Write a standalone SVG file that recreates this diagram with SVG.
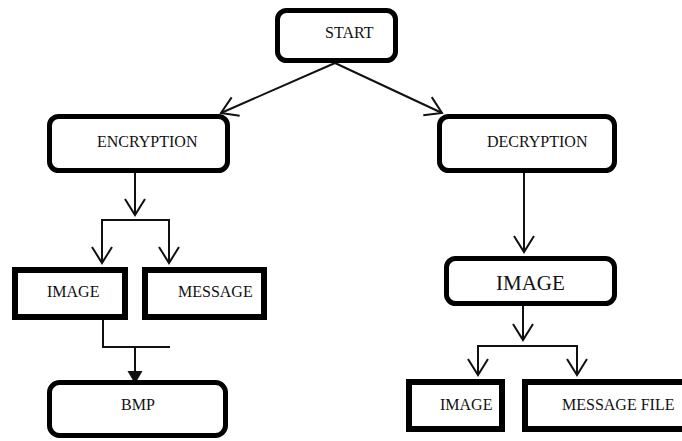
<svg xmlns="http://www.w3.org/2000/svg" width="682" height="441" viewBox="0 0 682 441">
  <style>
    .round { fill: #fff; stroke: #000; stroke-width: 5; }
    .square { fill: #fff; stroke: #000; stroke-width: 6; }
    .lbl { font-family: "Liberation Serif", "Times New Roman", serif; font-size: 16px; fill: #111; }
    .big { font-size: 21px; }
    .wire { fill: none; stroke: #111; stroke-width: 2; }
  </style>
  <defs>
    <marker id="vee" markerUnits="userSpaceOnUse" markerWidth="24" markerHeight="26" refX="0" refY="0" viewBox="-20 -13 24 26" orient="auto" overflow="visible">
      <path d="M-16,-10 L0,0 L-16,10" fill="none" stroke="#111" stroke-width="2"/>
    </marker>
    <marker id="solid" markerUnits="userSpaceOnUse" markerWidth="16" markerHeight="18" refX="0" refY="0" viewBox="-14 -9 16 18" orient="auto" overflow="visible">
      <path d="M-13,-7.5 L0,0 L-13,7.5 Z" fill="#111"/>
    </marker>
  </defs>

  <g id="connectors">
    <line class="wire" x1="335" y1="63" x2="221" y2="113" marker-end="url(#vee)"/>
    <line class="wire" x1="335" y1="63" x2="442" y2="113" marker-end="url(#vee)"/>
    <line class="wire" x1="135" y1="173" x2="135" y2="215" marker-end="url(#vee)"/>
    <polyline class="wire" points="102,263 102,220 169,220 169,263" />
    <line class="wire" x1="102" y1="240" x2="102" y2="263" marker-end="url(#vee)"/>
    <line class="wire" x1="169" y1="240" x2="169" y2="263" marker-end="url(#vee)"/>
    <polyline class="wire" points="103,320 103,347 170,347"/>
    <line class="wire" x1="135" y1="347" x2="135" y2="384" marker-end="url(#solid)"/>
    <line class="wire" x1="524" y1="173" x2="524" y2="252" marker-end="url(#vee)"/>
    <line class="wire" x1="523" y1="306" x2="523" y2="340" marker-end="url(#vee)"/>
    <polyline class="wire" points="478,375 478,346 577,346 577,375"/>
    <line class="wire" x1="478" y1="355" x2="478" y2="375" marker-end="url(#vee)"/>
    <line class="wire" x1="577" y1="355" x2="577" y2="375" marker-end="url(#vee)"/>
  </g>

  <g id="start">
    <rect class="round" x="277.5" y="10.5" width="118" height="50" rx="9"/>
    <text class="lbl" x="325" y="38">START</text>
  </g>
  <g id="encryption">
    <rect class="round" x="49.5" y="116.5" width="178" height="54" rx="9"/>
    <text class="lbl" x="97" y="147">ENCRYPTION</text>
  </g>
  <g id="decryption">
    <rect class="round" x="439.5" y="116.5" width="175" height="54" rx="9"/>
    <text class="lbl" x="487" y="147">DECRYPTION</text>
  </g>
  <g id="enc-image">
    <rect class="square" x="15" y="270" width="110" height="47"/>
    <text class="lbl" x="47" y="297">IMAGE</text>
  </g>
  <g id="enc-message">
    <rect class="square" x="145" y="270" width="119" height="47"/>
    <text class="lbl" x="178" y="297">MESSAGE</text>
  </g>
  <g id="bmp">
    <rect class="round" x="49.5" y="382.5" width="176" height="53" rx="10"/>
    <text class="lbl" x="121" y="410">BMP</text>
  </g>
  <g id="dec-image">
    <rect class="round" x="446.5" y="258.5" width="168" height="45" rx="9"/>
    <text class="lbl big" x="496" y="290">IMAGE</text>
  </g>
  <g id="out-image">
    <rect class="square" x="409" y="382" width="93" height="47"/>
    <text class="lbl" x="440" y="410">IMAGE</text>
  </g>
  <g id="out-message-file">
    <rect class="square" x="525" y="382" width="170" height="47"/>
    <text class="lbl" x="562" y="410">MESSAGE FILE</text>
  </g>
</svg>
